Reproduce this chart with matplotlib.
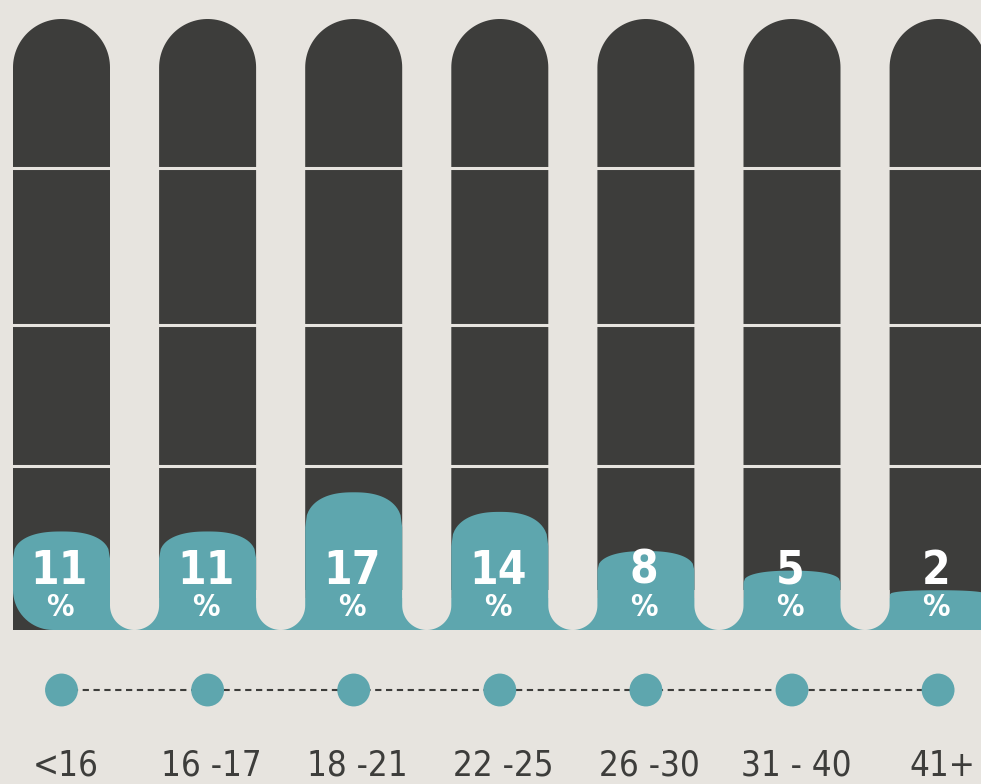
import os
import numpy as np
import matplotlib
matplotlib.use("Agg")
import matplotlib.pyplot as plt
from matplotlib.patches import Polygon
from matplotlib import font_manager
from matplotlib.font_manager import FontProperties


## Data

ages = ["<16", "16 -17", "18 -21", "22 -25", "26 -30", "31 - 40", "41+"]
shares = [11, 11, 17, 14, 8, 5, 2]


## Style / layout (pixels of the 981x784 canvas)

BG = "#e7e4df"
DARK = "#3d3d3b"
TEAL = "#5ea6ae"

W, H = 981, 784
STEP = 146.1        # px between tube centres
X0 = 61.5           # px, centre of first tube
PX_PER_PCT = 6.53   # vertical px per percent
BASE = 603.3        # pixel row of 0 %
TUBE_W = 97.0
TUBE_TOP = 19.0
TUBE_BOT = 630.0
GRID_ROWS = [167.5, 324.5, 465.5]


def narrow_font(wanted):
    files = {os.path.basename(f.fname): f.fname for f in font_manager.fontManager.ttflist}
    for w in wanted:
        if w in files:
            return files[w]
    return None

BOLD_FILE = narrow_font(["LiberationSansNarrow-Bold.ttf", "DejaVuSansCondensed-Bold.ttf"])
REG_FILE = narrow_font(["LiberationSansNarrow-Regular.ttf", "DejaVuSansCondensed.ttf"])


def fp(fname, size, bold=False):
    if fname:
        return FontProperties(fname=fname, size=size)
    return FontProperties(family="DejaVu Sans", stretch="condensed",
                          weight="bold" if bold else "normal", size=size)


def row(p):
    return (BASE - p) / PX_PER_PCT

def dx(p):
    return p / STEP

def dy(p):
    return p / PX_PER_PCT


fig = plt.figure(figsize=(W / 100, H / 100), dpi=100)
fig.patch.set_facecolor(BG)
ax = fig.add_axes([0, 0, 1, 1])
ax.set_facecolor(BG)
ax.set_xlim(-X0 / STEP, (W - X0) / STEP)
ax.set_ylim(row(H), row(0))
ax.axis("off")

hw = dx(TUBE_W / 2)
r_px = TUBE_W / 2
ybot = row(TUBE_BOT)
n = len(shares)

# dark tubes with round tops
th = np.linspace(np.pi, 0, 60)
yc = row(TUBE_TOP + r_px)
for i in range(n):
    xs = list(i + hw * np.cos(th)) + [i + hw, i - hw]
    ys = list(yc + dy(r_px) * np.sin(th)) + [ybot, ybot]
    ax.add_patch(Polygon(np.column_stack([xs, ys]), closed=True, fc=DARK, ec="none", zorder=1))

# beige separators inside the tubes
ax.hlines([row(r) for r in GRID_ROWS], -1, n + 1, colors=BG, lw=2.2, zorder=2)

# teal fill with a domed surface
u = np.linspace(1, -1, 60)
p = 2.4
for i, v in enumerate(shares):
    h_px = (v - row(TUBE_BOT)) * PX_PER_PCT
    bulge = min(0.38 * (h_px - 28), 35)
    side = v - dy(bulge)
    xs = [i + hw, i + hw] + list(i + hw * u)
    ys = [ybot, side] + list(side + dy(bulge) * (1 - np.abs(u) ** p) ** (1 / p))
    if i == 0:
        rc = 40
        a = np.linspace(np.pi, 1.5 * np.pi, 20)
        xs += list(i - hw + dx(rc) + dx(rc) * np.cos(a))
        ys += list(ybot + dy(rc) + dy(rc) * np.sin(a))
    else:
        xs += [i - hw]
        ys += [ybot]
    ax.add_patch(Polygon(np.column_stack([xs, ys]), closed=True, fc=TEAL, ec="none", zorder=3))

# teal band joining the tube bottoms, with round-bottomed gaps cut out
ax.add_patch(Polygon([(hw, ybot), (n + 1, ybot), (n + 1, row(TUBE_BOT - 32)), (hw, row(TUBE_BOT - 32))],
                     closed=True, fc=TEAL, ec="none", zorder=3))
gap_r = (STEP - TUBE_W) / 2
a = np.linspace(0, -np.pi, 40)
for i in range(n - 1):
    cx = i + 0.5
    cy = row(TUBE_BOT - gap_r)
    xs = [cx + dx(gap_r), cx + dx(gap_r)] + list(cx + dx(gap_r) * np.cos(a)) + [cx - dx(gap_r)]
    ys = [row(TUBE_BOT - 40), cy] + list(cy + dy(gap_r) * np.sin(a)) + [row(TUBE_BOT - 40)]
    ax.add_patch(Polygon(np.column_stack([xs, ys]), closed=True, fc=BG, ec="none", zorder=4))

# value labels
for i, v in enumerate(shares):
    ax.text(i - dx(2), row(584), str(v), ha="center", va="baseline",
            fontproperties=fp(BOLD_FILE, 33, bold=True), color="white", zorder=5)
    ax.text(i - dx(2), row(616), "%", ha="center", va="baseline",
            fontproperties=fp(BOLD_FILE, 22, bold=True), color="white", zorder=5)

# dotted timeline with dots
xi = np.arange(n)
ax.plot(xi, [row(690)] * n, color=DARK, lw=1.5, ls=(0, (3, 2.2)), zorder=5)
ax.scatter(xi, [row(690)] * n, s=560, color=TEAL, edgecolors="none", zorder=6)

# age labels
for i, lab in enumerate(ages):
    ax.text(i + dx(4), row(776), lab, ha="center", va="baseline",
            fontproperties=fp(REG_FILE, 25), color=DARK, zorder=5)

fig.savefig("out.png", dpi=100, facecolor=BG)
